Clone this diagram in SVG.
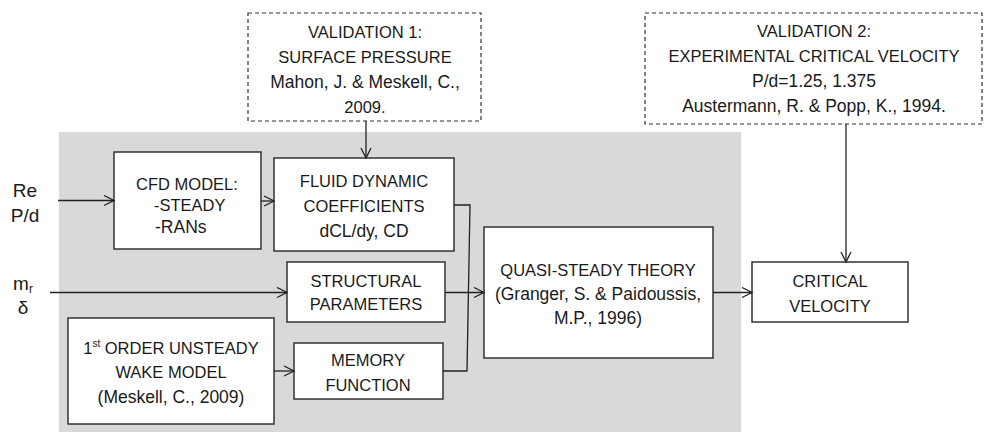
<svg xmlns="http://www.w3.org/2000/svg" width="984" height="432" viewBox="0 0 984 432">
<defs>
<marker id="arr" markerUnits="userSpaceOnUse" markerWidth="14" markerHeight="14" refX="11" refY="6" orient="auto">
<path d="M1,1 L11,6 L1,11" fill="none" stroke="#222" stroke-width="1.3"/>
</marker>
<style>
text{font-family:"Liberation Sans",Arial,sans-serif;font-size:16.5px;fill:#1a1a1a;text-anchor:middle}
.mc{font-size:17.5px}
.big{font-size:19px}
.box{fill:#fff;stroke:#333;stroke-width:1.5}
.dash{fill:#fff;stroke:#333;stroke-width:1.2;stroke-dasharray:4 3}
.ln{fill:none;stroke:#222;stroke-width:1.3}
.lft{text-anchor:start}
</style>
</defs>
<rect width="984" height="432" fill="#fff"/>
<rect id="panel" x="59" y="132" width="682" height="300" fill="#d9d9d9"/>

<g id="val1">
<rect class="dash" x="248" y="13" width="233" height="108"/>
<text x="365" y="38">VALIDATION 1:</text>
<text x="365" y="63">SURFACE PRESSURE</text>
<text class="mc" x="365" y="88">Mahon, J. &amp; Meskell, C.,</text>
<text x="365" y="113">2009.</text>
</g>
<g id="val2">
<rect class="dash" x="645" y="13" width="337" height="111"/>
<text x="814" y="37">VALIDATION 2:</text>
<text x="814" y="62">EXPERIMENTAL CRITICAL VELOCITY</text>
<text class="mc" x="814" y="87">P/d=1.25, 1.375</text>
<text class="mc" x="814" y="112">Austermann, R.  &amp; Popp, K., 1994.</text>
</g>
<g id="inputs1">
<text class="big" x="25" y="197">Re</text>
<text class="big" x="25" y="222">P/d</text>
</g>
<g id="inputs2">
<text class="big" x="23" y="290">m<tspan font-size="12" dy="3">r</tspan></text>
<text class="big" x="23" y="314">δ</text>
</g>
<g id="cfd">
<rect class="box" x="114" y="152" width="147" height="97"/>
<text x="187" y="190">CFD MODEL:</text>
<text class="lft" x="154" y="211">-STEADY</text>
<text class="lft mc" x="155" y="233">-RANs</text>
</g>
<g id="fdc">
<rect class="box" x="274" y="158" width="180" height="93"/>
<text x="364" y="187">FLUID DYNAMIC</text>
<text x="364" y="212">COEFFICIENTS</text>
<text class="mc" x="364" y="237">dCL/dy, CD</text>
</g>
<g id="struct">
<rect class="box" x="287" y="262" width="158" height="60"/>
<text x="366" y="287">STRUCTURAL</text>
<text x="366" y="310">PARAMETERS</text>
</g>
<g id="wake">
<rect class="box" x="68" y="318" width="206" height="106"/>
<text x="171" y="354">1<tspan font-size="10" dy="-7">st</tspan><tspan dy="7"> ORDER UNSTEADY</tspan></text>
<text x="171" y="378">WAKE MODEL</text>
<text class="mc" x="171" y="403">(Meskell, C., 2009)</text>
</g>
<g id="memory">
<rect class="box" x="294" y="343" width="149" height="56"/>
<text x="368" y="366">MEMORY</text>
<text x="368" y="391">FUNCTION</text>
</g>
<g id="qst">
<rect class="box" x="484" y="227" width="229" height="131"/>
<text x="598" y="276">QUASI-STEADY THEORY</text>
<text class="mc" x="598" y="300">(Granger, S. &amp; Paidoussis,</text>
<text class="mc" x="598" y="324">M.P., 1996)</text>
</g>
<g id="critical">
<rect class="box" x="752" y="262" width="156" height="60"/>
<text x="830" y="287">CRITICAL</text>
<text x="830" y="312">VELOCITY</text>
</g>

<g id="connectors">
<path class="ln" d="M58,200.5 H114" marker-end="url(#arr)"/>
<path class="ln" d="M261,201 H274" marker-end="url(#arr)"/>
<path class="ln" d="M366,121 V158" marker-end="url(#arr)"/>
<path class="ln" d="M846,124 V262" marker-end="url(#arr)"/>
<path class="ln" d="M50,292.5 H287" marker-end="url(#arr)"/>
<path class="ln" d="M445,292.5 H484" marker-end="url(#arr)"/>
<path class="ln" d="M713,292.5 H752" marker-end="url(#arr)"/>
<path class="ln" d="M274,371 H294" marker-end="url(#arr)"/>
<path class="ln" d="M454,205 H470 L467,371 H443"/>
</g>
</svg>
